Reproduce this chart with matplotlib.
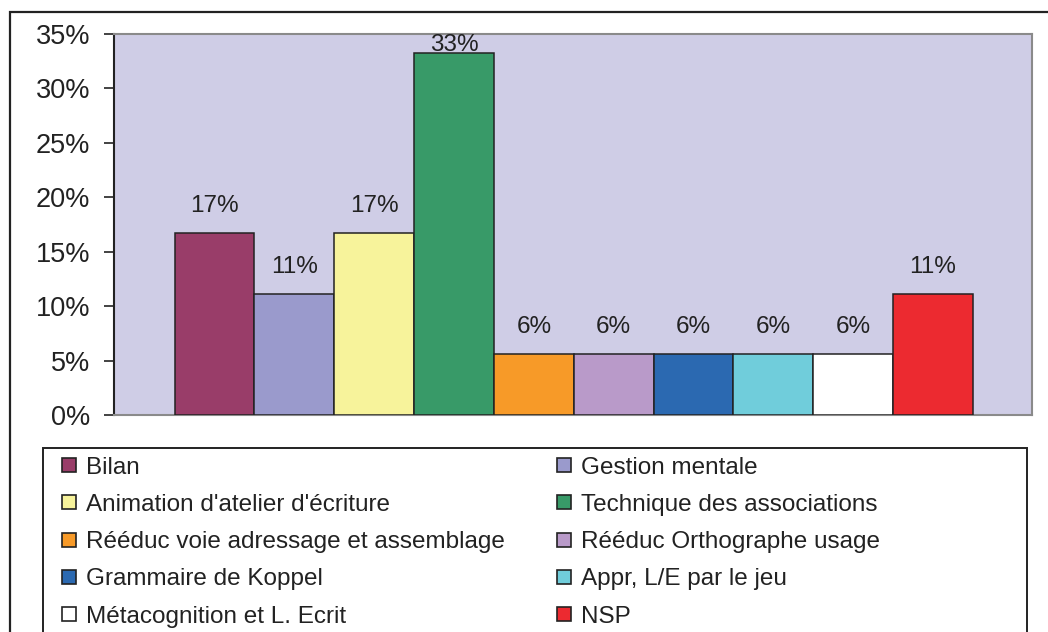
import matplotlib
matplotlib.use("Agg")
import matplotlib.pyplot as plt
from matplotlib.patches import Rectangle

plt.rcParams['font.family'] = ['Liberation Sans', 'DejaVu Sans']

categories = ["Bilan", "Gestion mentale", "Animation d'atelier d'écriture",
              "Technique des associations", "Rééduc voie adressage et assemblage",
              "Rééduc Orthographe usage", "Grammaire de Koppel", "Appr, L/E par le jeu",
              "Métacognition et L. Ecrit", "NSP"]
values = [16.7, 11.1, 16.7, 33.3, 5.6, 5.6, 5.6, 5.6, 5.6, 11.1]
labels = ["17%", "11%", "17%", "33%", "6%", "6%", "6%", "6%", "6%", "11%"]
colors = ["#993D69", "#9A9ACC", "#F7F39B", "#389A68", "#F79A28",
          "#B99AC9", "#2B69B1", "#70CDDB", "#FFFFFF", "#EC2A30"]
yticks = [0, 5, 10, 15, 20, 25, 30, 35]
ytick_labels = ["0%", "5%", "10%", "15%", "20%", "25%", "30%", "35%"]

W, H = 1048, 632
fig = plt.figure(figsize=(W / 100, H / 100), dpi=100)

def fx(px):
    return px / W

def fy(py):
    return 1 - py / H

# outer frame
fig.add_artist(Rectangle((fx(9.5), -0.2), 1.5, fy(11.5) + 0.2, transform=fig.transFigure,
                         fill=False, edgecolor="#222222", linewidth=1.6))

ax = fig.add_axes([fx(114), fy(415), fx(1032) - fx(114), fy(34) - fy(415)])
ax.set_facecolor("#CFCDE6")
x = list(range(len(values)))
ax.bar(x, values, width=1.0, color=colors, edgecolor="#222222", linewidth=1.1, zorder=3)
ax.set_xlim(-1.26, 10.24)
ax.set_ylim(0, 35)

pad = 27 / 381 * 35
for xi, v, lab in zip(x, values, labels):
    ax.text(xi, min(v + pad, 34.0), lab, ha="center", va="center",
            fontsize=17.5, color="#222222", zorder=4)

ax.set_yticks(yticks)
ax.set_yticklabels(ytick_labels, fontsize=19.5, color="#222222")
ax.tick_params(axis="y", direction="out", length=7.2, width=1.2, pad=10, color="#222222")
ax.set_xticks([])
for side in ["top", "right", "bottom"]:
    ax.spines[side].set_color("#8A8A8A")
    ax.spines[side].set_linewidth(1.5)
ax.spines["left"].set_color("#222222")
ax.spines["left"].set_linewidth(1.5)

# legend frame
fig.add_artist(Rectangle((fx(43), -0.2), fx(1027) - fx(43), fy(448) + 0.2,
                         transform=fig.transFigure, fill=False,
                         edgecolor="#222222", linewidth=1.4))
col_x = [62, 557]
row_y0, row_dy = 465, 37.3
for i, (cat, col) in enumerate(zip(categories, colors)):
    c, r = i % 2, i // 2
    yc = row_y0 + r * row_dy
    fig.add_artist(Rectangle((fx(col_x[c]), fy(yc + 7)), fx(14), fy(yc - 7) - fy(yc + 7),
                             transform=fig.transFigure, facecolor=col,
                             edgecolor="#222222", linewidth=1.2))
    fig.text(fx(col_x[c] + 24), fy(yc), cat, ha="left", va="center_baseline",
             fontsize=17.5, color="#222222")

fig.savefig("out.png", dpi=100)
